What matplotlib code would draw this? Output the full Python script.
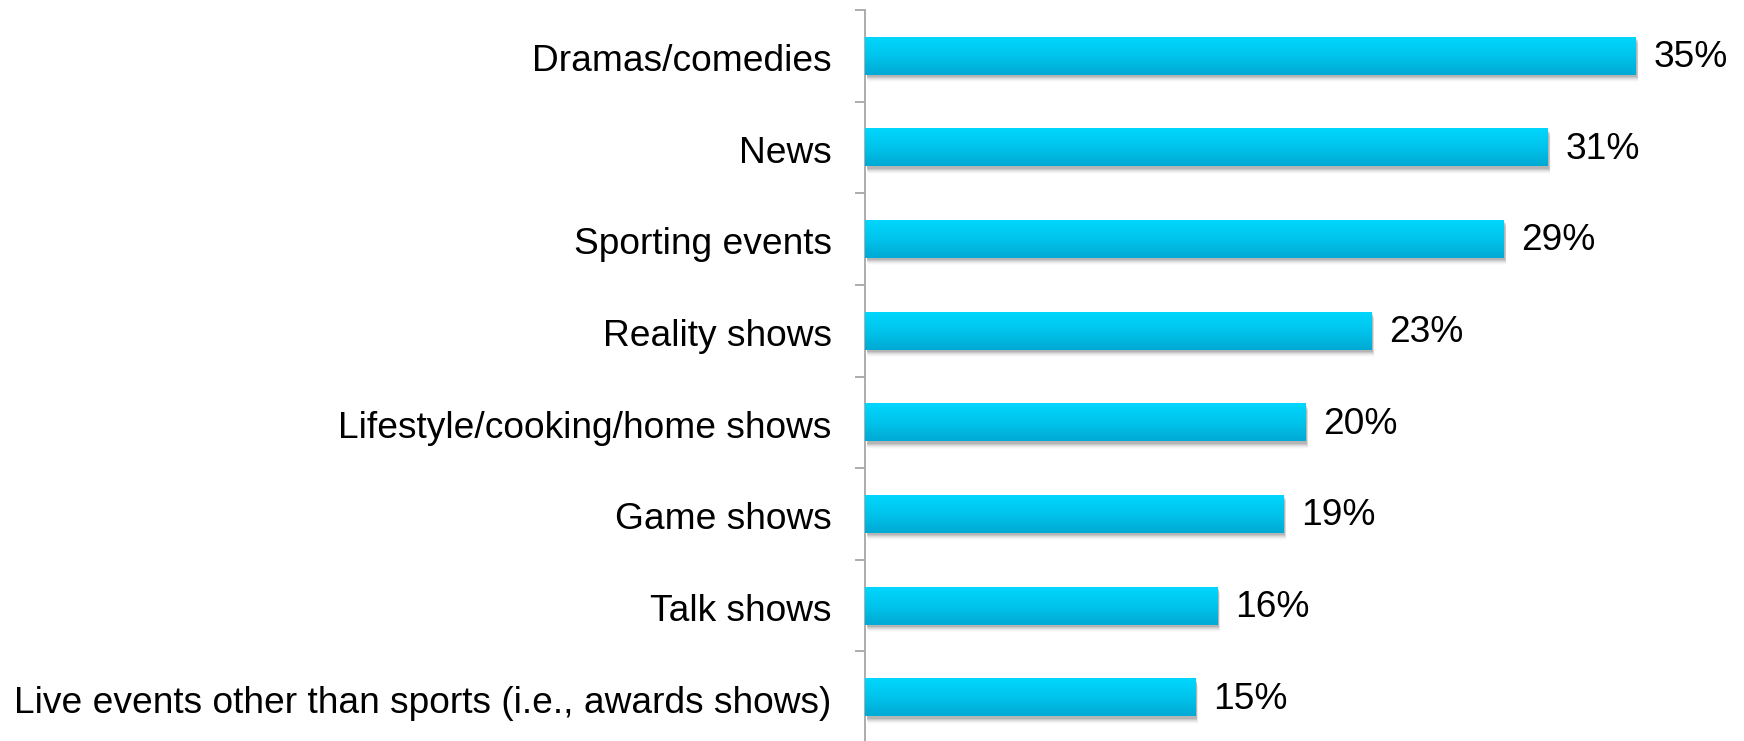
import numpy as np
import matplotlib
matplotlib.use("Agg")
import matplotlib.pyplot as plt
from matplotlib.colors import LinearSegmentedColormap
from matplotlib.patches import Rectangle

plt.rcParams['font.family'] = ['Liberation Sans', 'DejaVu Sans']

categories = [
    "Dramas/comedies",
    "News",
    "Sporting events",
    "Reality shows",
    "Lifestyle/cooking/home shows",
    "Game shows",
    "Talk shows",
    "Live events other than sports (i.e., awards shows)",
]
values = [35, 31, 29, 23, 20, 19, 16, 15]
value_labels = [f"{v}%" for v in values]

W, H = 1744, 741
fig = plt.figure(figsize=(W / 100, H / 100), dpi=100)
ax = fig.add_axes([865 / W, -2 / H, (1702 - 865) / W, (743 - 10) / H])

n = len(categories)
y = np.arange(n)
bar_h = 0.415
fs = 26.7

bars = ax.barh(y, values, height=bar_h, color="none", edgecolor="none", zorder=3)

grad = LinearSegmentedColormap.from_list("bar", ["#00D8FF", "#00C4EC", "#00AAD4"])
gimg = np.linspace(0, 1, 64).reshape(-1, 1)

for bar in bars:
    x0, y0 = bar.get_x(), bar.get_y()
    w, h = bar.get_width(), bar.get_height()
    # soft drop shadow below and to the right of each bar
    for k, a in enumerate([0.16, 0.12, 0.09, 0.06, 0.04, 0.02]):
        off = 0.011 * (k + 1)
        ax.add_patch(Rectangle((x0 + 0.06 + off, y0 + 0.015 + off), w, h,
                               facecolor="#505050", edgecolor="none",
                               alpha=a, zorder=2))
    im = ax.imshow(gimg, cmap=grad, aspect="auto",
                   extent=(x0, x0 + w, y0 + h, y0), zorder=4,
                   interpolation="bilinear")
    im.set_clip_path(bar)

for yi, v, lab in zip(y, values, value_labels):
    ax.text(v + 0.8, yi + 0.02, lab, va="center", ha="left", fontsize=fs, color="black")

ax.set_xlim(0, 38)
ax.set_ylim(n - 0.5, -0.5)

ax.set_yticks(y + 0.02)
ax.set_yticklabels(categories, fontsize=fs)
ax.tick_params(axis="y", which="major", length=0, pad=24)
ax.set_yticks(np.arange(-0.5, n + 0.5, 1), minor=True)
ax.tick_params(axis="y", which="minor", length=7.2, width=1.3, color="#A6A6A6")
ax.set_xticks([])

for side in ["top", "right", "bottom"]:
    ax.spines[side].set_visible(False)
ax.spines["left"].set_color("#A6A6A6")
ax.spines["left"].set_linewidth(1.3)

fig.savefig("out.png", dpi=100)
